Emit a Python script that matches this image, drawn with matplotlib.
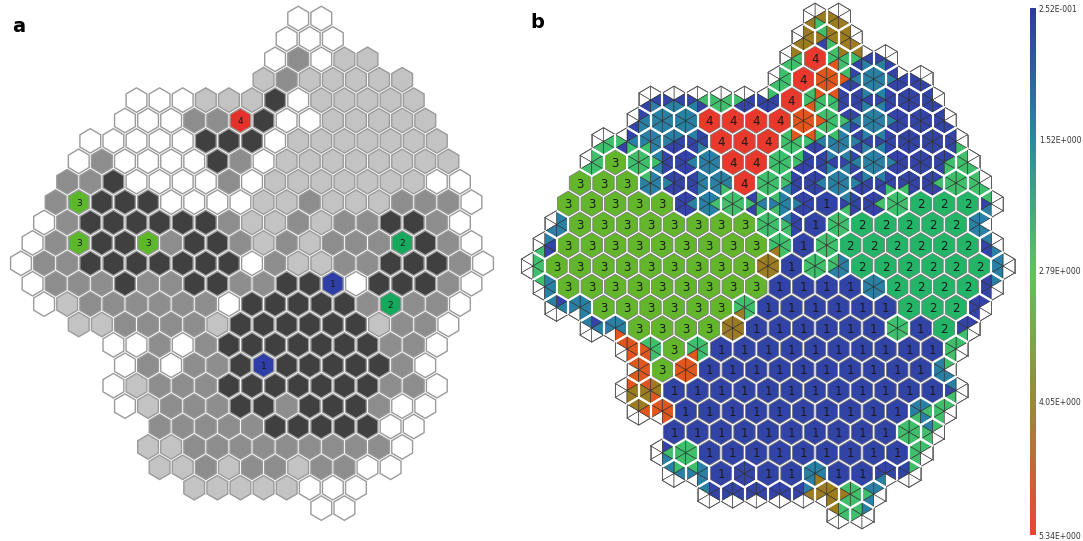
import numpy as np
import matplotlib
matplotlib.use('Agg')
import matplotlib.pyplot as plt
from matplotlib.patches import Polygon
from matplotlib.colors import LinearSegmentedColormap, Normalize
from matplotlib.colorbar import ColorbarBase

W, H = 1083, 541

# panel a: one char per map unit, rows top->bottom, columns 0..20
# w/l/m/d = white/light/mid/dark grey, digits = labelled cluster unit, '.' = no unit
grid_a = [
    "............ww.......",
    "...........www.......",
    "...........wmwll.....",
    "..........lmlllll....",
    ".....wwwllldwlllll...",
    "....wwwmm4dwwlllll...",
    "...wwwwwdddwlllllll..",
    "..wmwwwwdmwllllllll..",
    "..mmdwwwwmwlllllllww.",
    ".m3dddwwwwllmlllmmmw.",
    ".wmddddddmllmlmmddmw.",
    "wm3dd3mddmlmlmmm2dmw.",
    "wmmdddddddwmllmmdddmw",
    "wmmmdmmddmmdd1wdddmw.",
    ".wlmmmmmmwdddddm2mmw.",
    "..llmmmmlddddddlmmw..",
    "....wwmwmdddddddmmw..",
    "....wmwmmd1dddddmw...",
    "....wlmmmdddddddmmw..",
    "....wlmmmddmdddmww...",
    "......mmmmmdddddww...",
    ".....llmmmmmmmmmw....",
    "......llmlmmlmmww....",
    ".......lllllwww......",
    ".............ww......",
]

# panel b: digits = cluster units, letters = main colour of the U-matrix triangles
# b=blue t=teal g=green o=olive r=red
grid_b = [
    "............go.......",
    "...........obo.......",
    "...........g4gbb.....",
    "..........g4rbtbb....",
    ".....bbbgbb4gbbbbb...",
    "....btt4444rgbtbbb...",
    "...gbtbb444gbtbbbbb..",
    "..g3gbbt44gbbbtbbbg..",
    "..333tbbt4gbbtbbbbgg.",
    ".33333btgbtb1bbg222b.",
    ".t33333333gb1g22222t.",
    "b333333333g1g222222b.",
    "g333333333o1gt222222t",
    "t3333333331111t2222b.",
    ".bt333333g111111222b.",
    "..bt3333o111111g12b..",
    "....rg3g1111111111g..",
    "....r3r1111111111t...",
    "....oo111111111111b..",
    "....or1111111111tg...",
    "......1111111111gb...",
    ".....bg111111111g....",
    "......tt1b11t11bb....",
    ".......bbbbbogt......",
    ".............gt......",
]

a_colors = {'w': '#ffffff', 'l': '#c3c3c3', 'm': '#8d8d8d', 'd': '#404040',
            '1': '#2e3fa8', '2': '#16a85c', '3': '#5cb82a', '4': '#e5312b'}
b_cluster = {'1': '#3243a6', '2': '#23b468', '3': '#63b52c', '4': '#e8392c'}
tri_order = 'btgor'
b_tri = {'b': '#3344a6', 't': '#2a80a4', 'g': '#3fbf6c', 'o': '#9c7c22', 'r': '#e0561f'}

cbar_ticks = [0.252, 1.52, 2.79, 4.05, 5.34]
cbar_labels = ['2.52E-001', '1.52E+000', '2.79E+000', '4.05E+000', '5.34E+000']
cbar_colors = ['#2e3c9e', '#2a8aa0', '#5ec45c', '#9a8a36', '#ea4636']

# pointy-top hexagon, one column = 1 unit wide, one row = 1 unit high
ANG = np.deg2rad([30, 90, 150, 210, 270, 330])
HEX = np.column_stack([np.cos(ANG) * 0.5 / np.cos(np.pi / 6), -np.sin(ANG) * 2 / 3])


def centre(r, c):
    return np.array([c + 0.5 * (r % 2), r])


def cell(grid, r, c):
    if 0 <= r < len(grid) and 0 <= c < len(grid[r]):
        return grid[r][c]
    return '.'


def neighbour(r, c, j):
    # neighbour across the edge between vertex j and j+1
    o = r % 2
    return [(r - 1, c + o), (r - 1, c - 1 + o), (r, c - 1),
            (r + 1, c - 1 + o), (r + 1, c + o), (r, c + 1)][j]


def edge_colour(own, other):
    # the triangle on an edge shows the larger distance of the two units
    if other == '.':
        return '#ffffff'
    if other in b_tri:
        own = max(own, other, key=tri_order.index)
    return b_tri[own]


fig = plt.figure(figsize=(W / 100, H / 100), dpi=100)


def panel_axes(x0, dx, y0, dy):
    xmin, xmax, ymin, ymax = -1.2, 21.2, -1.2, 25.2
    left, right = x0 + dx * xmin, x0 + dx * xmax
    top, bottom = y0 + dy * ymin, y0 + dy * ymax
    ax = fig.add_axes([left / W, 1 - bottom / H, (right - left) / W, (bottom - top) / H])
    ax.set_xlim(xmin, xmax)
    ax.set_ylim(ymax, ymin)
    ax.axis('off')
    return ax


# ---- panel a
ax = panel_axes(21, 23.1, 18.5, 20.4)
for r, row in enumerate(grid_a):
    for c, ch in enumerate(row):
        if ch == '.':
            continue
        p = centre(r, c)
        ax.add_patch(Polygon(p + HEX * 0.9, closed=True, fc=a_colors[ch],
                             ec='#9a9a9a', lw=1.0))
        if ch.isdigit():
            ax.text(p[0], p[1] + 0.05, ch, ha='center', va='center',
                    fontsize=6.5, color='#1a1a1a')

# ---- panel b
ax = panel_axes(533, 23.5, 17, 20.75)
for r, row in enumerate(grid_b):
    for c, ch in enumerate(row):
        if ch == '.':
            continue
        p = centre(r, c)
        if ch.isdigit():
            ax.add_patch(Polygon(p + HEX * 0.91, closed=True, fc=b_cluster[ch],
                                 ec='#7a7a7a', lw=0.6))
            ax.text(p[0], p[1] + 0.05, ch, ha='center', va='center',
                    fontsize=8.5, color='#1a1a1a')
            continue
        for j in range(6):
            v1, v2 = p + HEX[j], p + HEX[(j + 1) % 6]
            other = cell(grid_b, *neighbour(r, c, j))
            ax.add_patch(Polygon([p, v1, v2], closed=True,
                                 fc=edge_colour(ch, other), ec='#2a2a2a', lw=0.4))
        for j in range(6):
            v1, v2 = p + HEX[j], p + HEX[(j + 1) % 6]
            if cell(grid_b, *neighbour(r, c, j)) != '.':
                ax.plot([v1[0], v2[0]], [v1[1], v2[1]], color='white', lw=1.5,
                        solid_capstyle='round')
            else:
                ax.plot([v1[0], v2[0]], [v1[1], v2[1]], color='#555555', lw=0.6)

# ---- colour bar
cax = fig.add_axes([1030 / W, 1 - 535 / H, 6 / W, 527 / H])
cmap = LinearSegmentedColormap.from_list('umat', cbar_colors)
cb = ColorbarBase(cax, cmap=cmap, norm=Normalize(cbar_ticks[0], cbar_ticks[-1]),
                  orientation='vertical')
cb.outline.set_visible(False)
cax.invert_yaxis()
cb.set_ticks(cbar_ticks)
cb.set_ticklabels(cbar_labels)
cax.tick_params(length=0, labelsize=5.5, pad=2, colors='#333333')

fig.text(12 / W, 1 - 26 / H, 'a', fontsize=14, fontweight='bold', va='center')
fig.text(530 / W, 1 - 22 / H, 'b', fontsize=14, fontweight='bold', va='center')

fig.savefig('out.png', dpi=100)
